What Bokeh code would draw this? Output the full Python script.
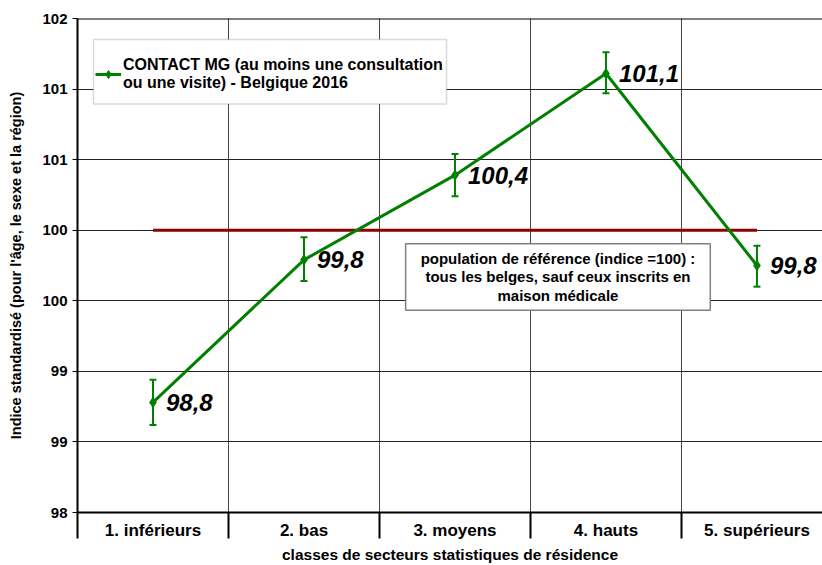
from bokeh.plotting import figure
from bokeh.core.properties import value
from bokeh.models import (ColumnDataSource, FixedTicker, Whisker, TeeHead, LabelSet,
                          Label, Span, Legend, LegendItem, BoxAnnotation)
from bokeh.embed import file_html
from bokeh.resources import INLINE

# ---------------- data ----------------
categories = ["1. inférieurs", "2. bas", "3. moyens", "4. hauts", "5. supérieurs"]
values = [98.78, 99.79, 100.39, 101.11, 99.75]
lower = [98.62, 99.64, 100.24, 100.97, 99.60]
upper = [98.94, 99.95, 100.54, 101.26, 99.89]
value_labels = ["98,8", "99,8", "100,4", "101,1", "99,8"]
reference = [100, 100, 100, 100, 100]
y_ticks = [98.0, 98.5, 99.0, 99.5, 100.0, 100.5, 101.0, 101.5]
y_tick_labels = ["98", "99", "99", "100", "100", "101", "101", "102"]

series_name = "CONTACT MG (au moins une consultation\nou une visite) - Belgique 2016"
ref_note = ("population de référence (indice =100) :\n"
            "tous les belges, sauf ceux inscrits en\nmaison médicale")
x_title = "classes de secteurs statistiques de résidence"
y_title = "Indice standardisé (pour l'âge, le sexe et la région)"

FONT = "Liberation Sans"
GREEN = "#008000"
DARKRED = "#8B0000"

xs = list(range(1, len(categories) + 1))
src = ColumnDataSource(dict(x=xs, y=values, lower=lower, upper=upper, lab=value_labels))

p = figure(width=822, height=565, output_backend="svg", toolbar_location=None,
           x_range=(0.5, 5.434), y_range=(98, 101.5),
           min_border_left=77, min_border_top=18, min_border_right=0, min_border_bottom=0)
p.outline_line_color = None
p.background_fill_color = "white"

# grids
p.ygrid.ticker = FixedTicker(ticks=y_ticks)
p.ygrid.grid_line_color = "#222222"
p.ygrid.grid_line_width = 1
p.xgrid.ticker = FixedTicker(ticks=[i + 0.5 for i in xs[:-1]])
p.xgrid.grid_line_color = "#444444"
p.xgrid.grid_line_width = 1

# top border
p.add_layout(Span(location=101.5, dimension="width", line_color="black", line_width=2))

# y axis
ya = p.yaxis[0]
ya.ticker = FixedTicker(ticks=y_ticks)
ya.major_label_overrides = {t: l for t, l in zip(y_ticks, y_tick_labels)}
ya.major_label_text_font = FONT
ya.major_label_text_font_style = "bold"
ya.major_label_text_font_size = "15px"
ya.major_label_text_color = "black"
ya.major_tick_in = 0
ya.major_tick_out = 5
ya.major_tick_line_color = "black"
ya.minor_tick_line_color = None
ya.axis_line_color = "black"
ya.axis_line_width = 2
ya.major_label_standoff = 5
ya.axis_label = y_title
ya.axis_label_text_font = FONT
ya.axis_label_text_font_style = "bold"
ya.axis_label_text_font_size = "14.5px"
ya.axis_label_text_color = "black"
ya.axis_label_standoff = 15

# x axis
xa = p.xaxis[0]
xa.ticker = FixedTicker(ticks=xs, minor_ticks=[i - 0.5 for i in xs] + [len(xs) + 0.5])
xa.major_label_overrides = {x: c for x, c in zip(xs, categories)}
xa.major_label_text_font = FONT
xa.major_label_text_font_style = "bold"
xa.major_label_text_font_size = "17px"
xa.major_label_text_color = "black"
xa.major_tick_in = 0
xa.major_tick_out = 0
xa.minor_tick_in = 0
xa.minor_tick_out = 26
xa.minor_tick_line_width = 2
xa.minor_tick_line_color = "black"
xa.axis_line_color = "black"
xa.axis_line_width = 2
xa.major_label_standoff = -18
xa.axis_label = x_title
xa.axis_label_text_font = FONT
xa.axis_label_text_font_style = "bold"
xa.axis_label_text_font_size = "15.5px"
xa.axis_label_text_color = "black"
xa.axis_label_standoff = 3

# reference line
p.line(xs, reference, line_color=DARKRED, line_width=3)

# series
ln = p.line("x", "y", source=src, line_color=GREEN, line_width=3)
sc = p.scatter("x", "y", source=src, marker="diamond", size=10,
               fill_color=GREEN, line_color=GREEN)
wh = Whisker(base="x", upper="upper", lower="lower", source=src,
             line_color=GREEN, line_width=2, level="glyph",
             upper_head=TeeHead(size=7, line_color=GREEN, line_width=2),
             lower_head=TeeHead(size=7, line_color=GREEN, line_width=2))
p.add_layout(wh)

labels = LabelSet(x="x", y="y", text="lab", source=src, x_offset=13, y_offset=0,
                  text_baseline="middle", text_align="left",
                  text_font=value(FONT), text_font_style="bold italic",
                  text_font_size="24px", text_color="black")
p.add_layout(labels)

# legend frame
p.add_layout(BoxAnnotation(left=0.606, right=2.944, bottom=100.894, top=101.352,
                           fill_color="white", fill_alpha=1,
                           line_color="#808080", line_width=1.5, level="annotation"))
legend = Legend(items=[LegendItem(label=series_name, renderers=[ln, sc])],
                location=(18, 420), orientation="vertical",
                padding=2, spacing=0, margin=0,
                glyph_width=26, glyph_height=20, label_standoff=2,
                label_text_font=FONT, label_text_font_style="bold",
                label_text_font_size="16px", label_text_color="black",
                label_text_line_height=1.0,
                border_line_color=None, background_fill_alpha=0)
p.add_layout(legend)

# reference note box
note = Label(x=3.682, y=99.669, text=ref_note, text_align="center", text_baseline="middle",
             text_font=FONT, text_font_style="bold", text_font_size="15px",
             text_color="black", text_line_height=1.1,
             border_line_color="#808080", border_line_width=1.5,
             background_fill_color="white", background_fill_alpha=1,
             padding=(15, 6))
p.add_layout(note)

open("out.html", "w").write(file_html(p, INLINE))
